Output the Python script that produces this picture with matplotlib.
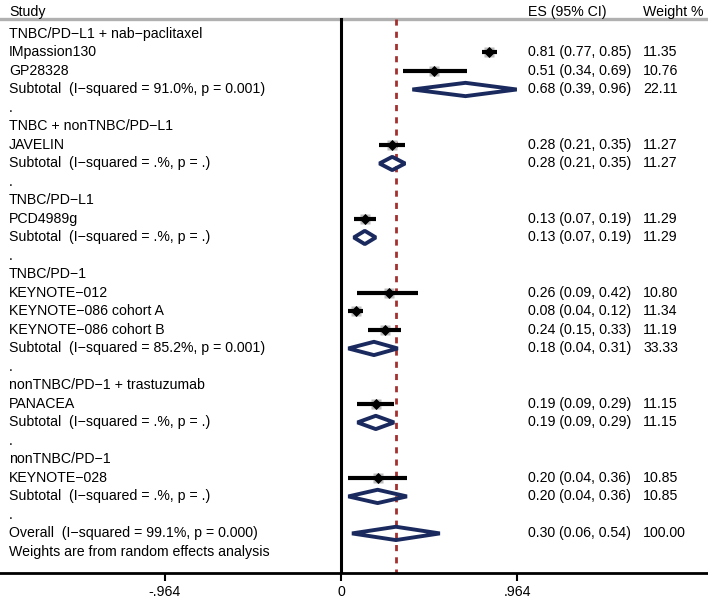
import matplotlib.pyplot as plt
from matplotlib.patches import Polygon

plt.rcParams['font.family'] = ['Liberation Sans', 'DejaVu Sans']

# rows of the forest plot, top to bottom
labels = [
    "TNBC/PD−L1 + nab−paclitaxel", "IMpassion130", "GP28328",
    "Subtotal  (I−squared = 91.0%, p = 0.001)", ".",
    "TNBC + nonTNBC/PD−L1", "JAVELIN",
    "Subtotal  (I−squared = .%, p = .)", ".",
    "TNBC/PD−L1", "PCD4989g",
    "Subtotal  (I−squared = .%, p = .)", ".",
    "TNBC/PD−1", "KEYNOTE−012", "KEYNOTE−086 cohort A", "KEYNOTE−086 cohort B",
    "Subtotal  (I−squared = 85.2%, p = 0.001)", ".",
    "nonTNBC/PD−1 + trastuzumab", "PANACEA",
    "Subtotal  (I−squared = .%, p = .)", ".",
    "nonTNBC/PD−1", "KEYNOTE−028",
    "Subtotal  (I−squared = .%, p = .)", ".",
    "Overall  (I−squared = 99.1%, p = 0.000)",
    "Weights are from random effects analysis",
]
kinds = [
    "head", "study", "study", "sub", "blank",
    "head", "study", "sub", "blank",
    "head", "study", "sub", "blank",
    "head", "study", "study", "study", "sub", "blank",
    "head", "study", "sub", "blank",
    "head", "study", "sub", "blank",
    "sub", "note",
]
es = [None, 0.81, 0.51, 0.68, None,
      None, 0.28, 0.28, None,
      None, 0.13, 0.13, None,
      None, 0.26, 0.08, 0.24, 0.18, None,
      None, 0.19, 0.19, None,
      None, 0.20, 0.20, None,
      0.30, None]
lo = [None, 0.77, 0.34, 0.39, None,
      None, 0.21, 0.21, None,
      None, 0.07, 0.07, None,
      None, 0.09, 0.04, 0.15, 0.04, None,
      None, 0.09, 0.09, None,
      None, 0.04, 0.04, None,
      0.06, None]
hi = [None, 0.85, 0.69, 0.96, None,
      None, 0.35, 0.35, None,
      None, 0.19, 0.19, None,
      None, 0.42, 0.12, 0.33, 0.31, None,
      None, 0.29, 0.29, None,
      None, 0.36, 0.36, None,
      0.54, None]
weights = [None, 11.35, 10.76, 22.11, None,
           None, 11.27, 11.27, None,
           None, 11.29, 11.29, None,
           None, 10.80, 11.34, 11.19, 33.33, None,
           None, 11.15, 11.15, None,
           None, 10.85, 10.85, None,
           100.00, None]
overall_es = 0.30
tick_vals = [-0.964, 0, 0.964]
tick_labels = ["-.964", "0", ".964"]

fig = plt.figure(figsize=(7.08, 6.0), dpi=100)
ax = fig.add_axes([0, 0.045, 1, 0.955])
ax.set_xlim(-1.863, 2.005)
ax.set_ylim(29.14, -1.838)

navy = "#1b2a5e"
fs = 10.2
x_lab, x_es, x_wt = -1.814, 1.022, 1.650

# header
ax.text(x_lab, -1.19, "Study", fontsize=fs, va="center")
ax.text(x_es, -1.19, "ES (95% CI)", fontsize=fs, va="center")
ax.text(x_wt, -1.19, "Weight %", fontsize=fs, va="center")
ax.axhline(-0.81, color="#b0b0b0", lw=2.4)

ax.plot([0, 0], [-0.81, 29.14], color="black", lw=2.2, zorder=3)
ax.plot([overall_es, overall_es], [-0.81, 29.14], color="#a3302f", lw=2,
        ls=(0, (2.2, 2.2)), zorder=2)

for r, (lab, k) in enumerate(zip(labels, kinds)):
    ax.text(x_lab, r, lab, fontsize=fs, va="center")
    if es[r] is None:
        continue
    if k == "study":
        ax.plot([lo[r], hi[r]], [r, r], color="black", lw=3, zorder=4,
                solid_capstyle="butt")
        ax.plot(es[r], r, marker="s", ms=2.3 * weights[r] ** 0.5,
                color="#bdbdbd", mec="none", zorder=3)
        ax.plot(es[r], r, marker="D", ms=5, mew=0.6, color="black", zorder=5)
    else:
        h = 0.36
        d = Polygon([(lo[r], r), (es[r], r - h), (hi[r], r), (es[r], r + h)],
                    closed=True, fc="none", ec=navy, lw=2.8, joinstyle="bevel",
                    zorder=4)
        ax.add_patch(d)
    ax.text(x_es, r, f"{es[r]:.2f} ({lo[r]:.2f}, {hi[r]:.2f})", fontsize=fs,
            va="center")
    ax.text(x_wt, r, f"{weights[r]:.2f}", fontsize=fs, va="center")

for s in ["top", "left", "right"]:
    ax.spines[s].set_visible(False)
ax.spines["bottom"].set_linewidth(2)
ax.set_yticks([])
ax.set_xticks(tick_vals)
ax.set_xticklabels(tick_labels, fontsize=fs)
ax.tick_params(axis="x", length=6, width=1.5, pad=3)

fig.savefig("out.png", dpi=100)
